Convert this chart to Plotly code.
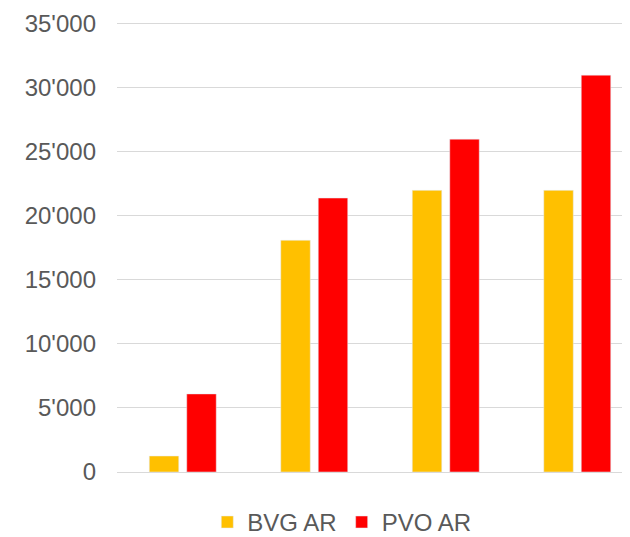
import plotly.graph_objects as go

# groups (no category labels shown in the original)
groups = ["G1", "G2", "G3", "G4"]
bvg_ar = [1250, 18100, 22000, 22000]
pvo_ar = [6100, 21400, 26000, 31000]

FONT = "Liberation Sans, Arial, sans-serif"
GREY = "#595959"

fig = go.Figure()
fig.add_trace(go.Bar(x=groups, y=bvg_ar, name="BVG AR", marker_color="#FFC000"))
fig.add_trace(go.Bar(x=groups, y=pvo_ar, name="PVO AR", marker_color="#FF0000"))

# page body has an 8px margin, so the figure is drawn 8px smaller
fig.update_layout(
    width=622,
    height=529,
    margin=dict(l=109, r=0, t=14, b=65, autoexpand=False),
    plot_bgcolor="white",
    paper_bgcolor="white",
    barmode="group",
    bargap=0.43,
    bargroupgap=0.213,
    separators=".'",
    font=dict(family=FONT, size=24, color=GREY),
    showlegend=True,
    legend=dict(
        orientation="h",
        x=0.176,
        xanchor="left",
        y=-0.062,
        yanchor="top",
        font=dict(size=24, color=GREY),
        itemwidth=30,
    ),
)
fig.update_xaxes(
    range=[-0.5, 3.401],
    showticklabels=False,
    showgrid=False,
    zeroline=False,
    showline=False,
)
fig.update_yaxes(
    range=[0, 35150],
    dtick=5000,
    tickformat=",d",
    gridcolor="#D9D9D9",
    gridwidth=1.3,
    zeroline=True,
    zerolinecolor="#D9D9D9",
    zerolinewidth=1.3,
    showline=False,
    ticklabelstandoff=20,
    tickfont=dict(size=24, color=GREY),
)

fig.write_html("out.html")
